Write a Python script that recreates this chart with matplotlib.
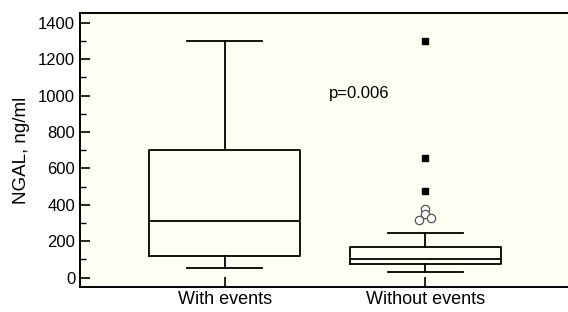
import matplotlib
matplotlib.use("Agg")
import matplotlib.pyplot as plt
from matplotlib.ticker import MultipleLocator

# group labels
groups = ["With events", "Without events"]

# box statistics (ng/ml)
whislo = [53, 30]
q1 = [121, 77]
med = [313, 104]
q3 = [703, 169]
whishi = [1301, 247]

# outliers of the "Without events" group
far_out = [1301, 656, 475]          # filled squares
near_out = [376, 352, 318, 330]     # open circles
near_dx = [0.0, 0.0, -0.03, 0.03]   # small horizontal spread of the circles

plt.rcParams["font.family"] = ["Liberation Sans", "DejaVu Sans"]

fig = plt.figure(figsize=(5.68, 3.12), dpi=100)
ax = fig.add_axes([80 / 568, 24.7 / 312, 496 / 568, 274.6 / 312])
ax.set_facecolor("#fefef2")

stats = []
for i in range(len(groups)):
    stats.append({"whislo": whislo[i], "q1": q1[i], "med": med[i],
                  "q3": q3[i], "whishi": whishi[i], "fliers": []})

lw = 1.3
ax.bxp(stats, positions=[1, 2], widths=0.75, showfliers=False,
       boxprops=dict(color="black", linewidth=lw),
       medianprops=dict(color="black", linewidth=lw),
       whiskerprops=dict(color="black", linewidth=lw),
       capprops=dict(color="black", linewidth=lw),
       capwidths=0.37)

# outliers
ax.plot([2] * len(far_out), far_out, "s", color="black", markersize=5)
ax.plot([2 + d for d in near_dx], near_out, "o", markerfacecolor="white",
        markeredgecolor="#555555", markersize=6, markeredgewidth=0.9)

ax.text(1.52, 1010, "p=0.006", fontsize=12, va="center", ha="left")

ax.set_xlim(0.28, 2.75)
ax.set_ylim(-53, 1456)
ax.set_xticks([1, 2])
ax.set_xticklabels(groups, fontsize=13)
ax.set_yticks(range(0, 1401, 200))
ax.yaxis.set_minor_locator(MultipleLocator(100))
ax.tick_params(axis="both", direction="in", length=7, width=1.2, labelsize=12)
ax.tick_params(axis="x", labelsize=13, pad=3)
ax.tick_params(axis="y", which="minor", direction="in", length=4, width=1.0)
ax.set_ylabel("NGAL, ng/ml", fontsize=13.5, labelpad=6)

for s in ax.spines.values():
    s.set_linewidth(1.4)
ax.spines["right"].set_visible(False)

fig.savefig("out.png", dpi=100)
